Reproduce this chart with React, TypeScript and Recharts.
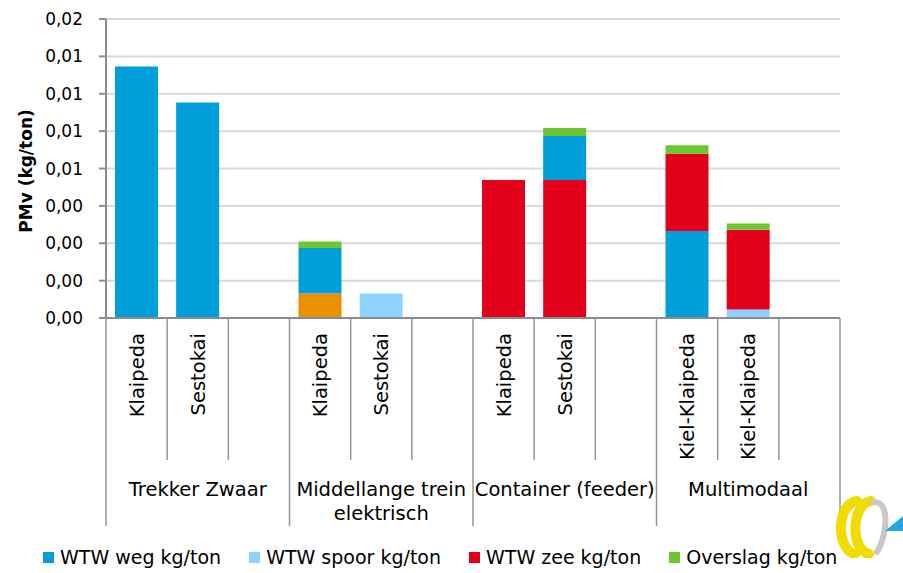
import React from "react";
import { BarChart, Bar, XAxis, YAxis, CartesianGrid, Label } from "recharts";

// categories: 4 groups with 3 slots each (third slot empty)
const groupLabels = [
  ["Trekker Zwaar"],
  ["Middellange trein", "elektrisch"],
  ["Container (feeder)"],
  ["Multimodaal"],
];
const subLabels = [
  "Klaipeda", "Sestokai", "",
  "Klaipeda", "Sestokai", "",
  "Klaipeda", "Sestokai", "",
  "Kiel-Klaipeda", "Kiel-Klaipeda", "",
];

// series values in kg/ton
const wtwOverig = [0, 0, 0, 0.00131, 0, 0, 0, 0, 0, 0, 0, 0];
const wtwWegVoor = [0.01346, 0.01153, 0, 0, 0, 0, 0, 0, 0, 0.00465, 0, 0];
const wtwSpoor = [0, 0, 0, 0, 0.00131, 0, 0, 0, 0, 0, 0.00045, 0];
const wtwZee = [0, 0, 0, 0, 0, 0, 0.00738, 0.00738, 0, 0.00414, 0.00427, 0];
const wtwWegNa = [0, 0, 0, 0.00244, 0, 0, 0, 0.00236, 0, 0, 0, 0];
const overslag = [0, 0, 0, 0.00034, 0, 0, 0, 0.00043, 0, 0.00045, 0.00034, 0];

const yTicks = [0, 0.002, 0.004, 0.006, 0.008, 0.01, 0.012, 0.014, 0.016];
const yTickLabels = ["0,00", "0,00", "0,00", "0,00", "0,01", "0,01", "0,01", "0,01", "0,02"];

const legendItems = [
  { name: "WTW weg kg/ton", color: "#009FDA" },
  { name: "WTW spoor kg/ton", color: "#8ED3FF" },
  { name: "WTW zee kg/ton", color: "#E2001A" },
  { name: "Overslag kg/ton", color: "#6CC72E" },
];

const data = subLabels.map((label, i) => ({
  slot: i,
  label,
  overig: wtwOverig[i],
  wegVoor: wtwWegVoor[i],
  spoor: wtwSpoor[i],
  zee: wtwZee[i],
  wegNa: wtwWegNa[i],
  overslag: overslag[i],
}));

const W = 903;
const H = 573;
const MARGIN = { top: 19, right: 63, bottom: 0, left: 0 };
const Y_AXIS_W = 106;
const X_AXIS_H = 255;
const SLOT_W = (W - MARGIN.left - MARGIN.right - Y_AXIS_W) / subLabels.length;
const FONT = "'DejaVu Sans', Verdana, sans-serif";
const LINE = "#959595";

function CategoryTick(props: any) {
  const { x, y, index } = props;
  const left = x - SLOT_W / 2;
  const groupStart = index % 3 === 0;
  const last = index === subLabels.length - 1;
  const group = groupLabels[Math.floor(index / 3)];
  return (
    <g>
      <line x1={left} x2={left} y1={y} y2={y + (groupStart ? 208 : 142)} stroke={LINE} strokeWidth={1.5} />
      {last && (
        <line x1={x + SLOT_W / 2} x2={x + SLOT_W / 2} y1={y} y2={y + 208} stroke={LINE} strokeWidth={1.5} />
      )}
      {subLabels[index] && (
        <text
          transform={`translate(${x},${y + 15}) rotate(-90)`}
          textAnchor="end"
          dy="0.36em"
          fontSize={19.5}
          fontFamily={FONT}
          fill="#000"
        >
          {subLabels[index]}
        </text>
      )}
      {index % 3 === 1 &&
        group.map((line, k) => (
          <text
            key={k}
            x={x}
            y={y + 171 + k * 24}
            dy="0.36em"
            textAnchor="middle"
            fontSize={19.5}
            fontFamily={FONT}
            fill="#000"
          >
            {line}
          </text>
        ))}
    </g>
  );
}

function Logo() {
  return (
    <svg width={70} height={62} style={{ position: "absolute", left: 833, top: 496 }}>
      <path d="M24 5 C3 8, 3 54, 22 58" fill="none" stroke="#F0DC00" strokeWidth={10} strokeLinecap="round" />
      <path d="M38 5 C18 8, 17 54, 36 58" fill="none" stroke="#F0DC00" strokeWidth={10} strokeLinecap="round" />
      <path d="M40 6 C58 4, 54 40, 44 56" fill="none" stroke="#C8C8C8" strokeWidth={6} strokeLinecap="round" />
      <polygon points="52,35 70,20 70,35" fill="#22A8E0" />
    </svg>
  );
}

export default function App() {
  return (
    <div style={{ position: "absolute", left: 0, top: 0, width: W, height: H, background: "#fff" }}>
      <BarChart width={W} height={H} data={data} margin={MARGIN} barSize={43}>
        <CartesianGrid vertical={false} stroke="#D9D9D9" strokeWidth={2} />
        <XAxis
          dataKey="slot"
          type="category"
          height={X_AXIS_H}
          interval={0}
          tickSize={0}
          tickMargin={0}
          tickLine={false}
          axisLine={{ stroke: "#8C8C8C", strokeWidth: 2 }}
          tick={<CategoryTick />}
        />
        <YAxis
          width={Y_AXIS_W}
          domain={[0, 0.016]}
          ticks={yTicks}
          interval={0}
          tickSize={7}
          tickMargin={16}
          axisLine={{ stroke: "#8C8C8C", strokeWidth: 2 }}
          tickLine={{ stroke: "#8C8C8C", strokeWidth: 2 }}
          tick={{ fontSize: 17, fontFamily: FONT, fill: "#000" }}
          tickFormatter={(v: number) => yTickLabels[yTicks.indexOf(v)] ?? ""}
        >
          <Label
            content={() => (
              <text
                transform="translate(26,171) rotate(-90)"
                textAnchor="middle"
                dy="0.36em"
                fontSize={17}
                fontWeight="bold"
                fontFamily={FONT}
                fill="#000"
              >
                PMv (kg/ton)
              </text>
            )}
          />
        </YAxis>
        <YAxis
          yAxisId="right"
          orientation="right"
          width={0}
          tick={false}
          tickLine={false}
          axisLine={{ stroke: "#D9D9D9", strokeWidth: 2 }}
        />
        <Bar dataKey="overig" stackId="a" fill="#EA9100" legendType="none" isAnimationActive={false} />
        <Bar dataKey="wegVoor" stackId="a" fill="#009FDA" isAnimationActive={false} />
        <Bar dataKey="spoor" stackId="a" fill="#8ED3FF" isAnimationActive={false} />
        <Bar dataKey="zee" stackId="a" fill="#E2001A" isAnimationActive={false} />
        <Bar dataKey="wegNa" stackId="a" fill="#009FDA" isAnimationActive={false} />
        <Bar dataKey="overslag" stackId="a" fill="#6CC72E" isAnimationActive={false} />
      </BarChart>
      <div
        style={{
          position: "absolute",
          left: 43,
          top: 546,
          display: "flex",
          gap: 28,
          fontFamily: FONT,
          fontSize: 19,
          color: "#000",
          whiteSpace: "nowrap",
        }}
      >
        {legendItems.map((item) => (
          <div key={item.name} style={{ display: "flex", alignItems: "center" }}>
            <span style={{ width: 11, height: 11, background: item.color, marginRight: 6, display: "inline-block" }} />
            <span>{item.name}</span>
          </div>
        ))}
      </div>
      <Logo />
    </div>
  );
}
